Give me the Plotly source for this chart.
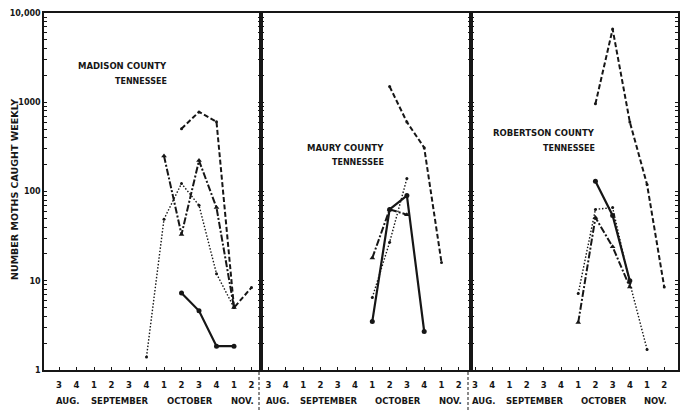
import plotly.graph_objects as go

# Week positions: 0=Aug3,1=Aug4,2..5=Sep1..4,6..9=Oct1..4,10=Nov1,11=Nov2
week_labels = ["3", "4", "1", "2", "3", "4", "1", "2", "3", "4", "1", "2"]
month_labels = ["AUG.", "SEPTEMBER", "OCTOBER", "NOV."]
month_centers = [0.5, 3.5, 7.5, 10.5]

# Madison County
mad_dotted_x = [5, 6, 7, 8, 9, 10]
mad_dotted_y = [1.4, 49, 123, 70, 12, 5]
mad_dashdot_x = [6, 7, 8, 9, 10]
mad_dashdot_y = [250, 33, 222, 66, 5]
mad_dashed_x = [7, 8, 9, 10, 11]
mad_dashed_y = [505, 780, 605, 5, 8.4]
mad_solid_x = [7, 8, 9, 10]
mad_solid_y = [7.3, 4.6, 1.85, 1.85]

# Maury County
mau_dashed_x = [7, 8, 9, 10]
mau_dashed_y = [1500, 600, 310, 16]
mau_solid_x = [6, 7, 8, 9]
mau_solid_y = [3.5, 63, 90, 2.7]
mau_dashdot_x = [6, 7, 8]
mau_dashdot_y = [18, 63, 55]
mau_dotted_x = [6, 7, 8]
mau_dotted_y = [6.5, 27, 140]

# Robertson County
rob_dashed_x = [7, 8, 9, 10, 11]
rob_dashed_y = [960, 6600, 600, 120, 8.5]
rob_solid_x = [7, 8, 9]
rob_solid_y = [130, 54, 10]
rob_dotted_x = [6, 7, 8, 9, 10]
rob_dotted_y = [7.2, 63, 66, 9.4, 1.7]
rob_dashdot_x = [6, 7, 8, 9]
rob_dashdot_y = [3.4, 51, 24, 8.5]

ytick_vals = [m * 10 ** d for d in range(4) for m in range(1, 10)] + [10000]
ytick_text = [("10,000" if v == 10000 else str(int(v))) if v in (1, 10, 100, 1000, 10000) else "" for v in ytick_vals]

INK = "#161616"
FONT = "DejaVu Sans"

styles = {
    "solid": dict(line=dict(color=INK, width=2.2), marker=dict(symbol="circle", size=5, color=INK)),
    "dashed": dict(line=dict(color=INK, width=2.0, dash="5px,2.5px"), marker=dict(symbol="circle", size=3, color=INK)),
    "dashdot": dict(line=dict(color=INK, width=2.0, dash="7px,2px,2px,2px"), marker=dict(symbol="triangle-up", size=5, color=INK)),
    "dotted": dict(line=dict(color=INK, width=1.4, dash="1.5px,1.8px"), marker=dict(symbol="circle", size=3, color=INK)),
}

panels = [
    ("x", "y", [(mad_dotted_x, mad_dotted_y, "dotted"), (mad_dashdot_x, mad_dashdot_y, "dashdot"),
                (mad_dashed_x, mad_dashed_y, "dashed"), (mad_solid_x, mad_solid_y, "solid")]),
    ("x2", "y2", [(mau_dashed_x, mau_dashed_y, "dashed"), (mau_dotted_x, mau_dotted_y, "dotted"),
                  (mau_dashdot_x, mau_dashdot_y, "dashdot"), (mau_solid_x, mau_solid_y, "solid")]),
    ("x3", "y3", [(rob_dashed_x, rob_dashed_y, "dashed"), (rob_dotted_x, rob_dotted_y, "dotted"),
                  (rob_dashdot_x, rob_dashdot_y, "dashdot"), (rob_solid_x, rob_solid_y, "solid")]),
]

fig = go.Figure()
for xa, ya, series in panels:
    for xs, ys, st in series:
        fig.add_trace(go.Scatter(x=xs, y=ys, xaxis=xa, yaxis=ya, mode="lines+markers",
                                 showlegend=False, hoverinfo="skip", **styles[st]))

L, R, T, B = 44, 5, 13, 46
W, H = 683, 416
pw = W - L - R
ph = H - T - B

def px(xpix):
    return (xpix - L) / pw

def py(ypix):
    return (H - B - ypix) / ph

b1, b2 = px(261), px(471)
domains = [[0, b1], [b1, b2], [b2, 1]]
xranges = [[-0.857, 11.543], [-0.434, 11.705], [-0.233, 11.8]]

tickfont = dict(family=FONT, size=8, color=INK, weight="bold")

layout = dict(
    width=W, height=H,
    margin=dict(l=L, r=R, t=T, b=B, autoexpand=False),
    paper_bgcolor="white", plot_bgcolor="white",
    showlegend=False,
)
for i in range(3):
    sx = "" if i == 0 else str(i + 1)
    layout["xaxis" + sx] = dict(
        domain=domains[i], range=xranges[i], anchor="y" + sx, automargin=False,
        tickvals=list(range(12)), ticktext=week_labels, ticks="inside", ticklen=3,
        tickcolor=INK, showline=True, linecolor=INK, linewidth=1.8, mirror=True,
        showgrid=False, zeroline=False, tickfont=dict(family=FONT, size=8.5, color=INK, weight="bold"),
        ticklabelstandoff=6,
    )
    layout["yaxis" + sx] = dict(
        type="log", range=[0, 4], anchor="x" + sx, domain=[0, 1], automargin=False,
        tickvals=ytick_vals, ticktext=ytick_text, showticklabels=(i == 0),
        ticks="inside", ticklen=3, tickcolor=INK, tickwidth=1.2,
        showline=True, linecolor=INK, linewidth=1.6, mirror="ticks",
        showgrid=False, zeroline=False, tickfont=tickfont,
    )
fig.update_layout(**layout)

annotations = []
# month labels
for i, xa in enumerate(["x", "x2", "x3"]):
    for mc, ml in zip(month_centers, month_labels):
        annotations.append(dict(x=mc, xref=xa, y=py(401), yref="paper", text=ml, showarrow=False,
                                xanchor="center", yanchor="middle",
                                font=dict(family=FONT, size=8.5, color=INK, weight="bold")))
# axis title
annotations.append(dict(x=px(14), y=py(190), xref="paper", yref="paper", text="NUMBER MOTHS CAUGHT WEEKLY",
                        textangle=-90, showarrow=False, xanchor="center", yanchor="middle",
                        font=dict(family=FONT, size=9.5, color=INK, weight="bold")))
# county labels
county = [
    ("MADISON COUNTY", "TENNESSEE", 169, 66, 82),
    ("MAURY COUNTY", "TENNESSEE", 386, 148, 163),
    ("ROBERTSON COUNTY", "TENNESSEE", 597, 133, 148),
]
for name, state, xr, y1, y2 in county:
    annotations.append(dict(x=px(xr), y=py(y1), xref="paper", yref="paper", text=name, showarrow=False,
                            xanchor="right", yanchor="middle",
                            font=dict(family=FONT, size=8.5, color=INK, weight="bold")))
    annotations.append(dict(x=px(xr), y=py(y2), xref="paper", yref="paper", text=state, showarrow=False,
                            xanchor="right", yanchor="middle",
                            font=dict(family=FONT, size=8, color=INK, weight="bold")))
fig.update_layout(annotations=annotations)

# dashed dividers between panels below axis
shapes = []
for xb in (259, 468):
    shapes.append(dict(type="line", xref="paper", yref="paper", x0=px(xb), x1=px(xb), y0=py(372), y1=py(410),
                       line=dict(color=INK, width=1, dash="3px,2px")))
fig.update_layout(shapes=shapes)

fig.write_html("out.html", config={"displayModeBar": False},
               post_script="document.body.style.margin='0';document.body.style.padding='0';document.body.style.overflow='hidden';")
